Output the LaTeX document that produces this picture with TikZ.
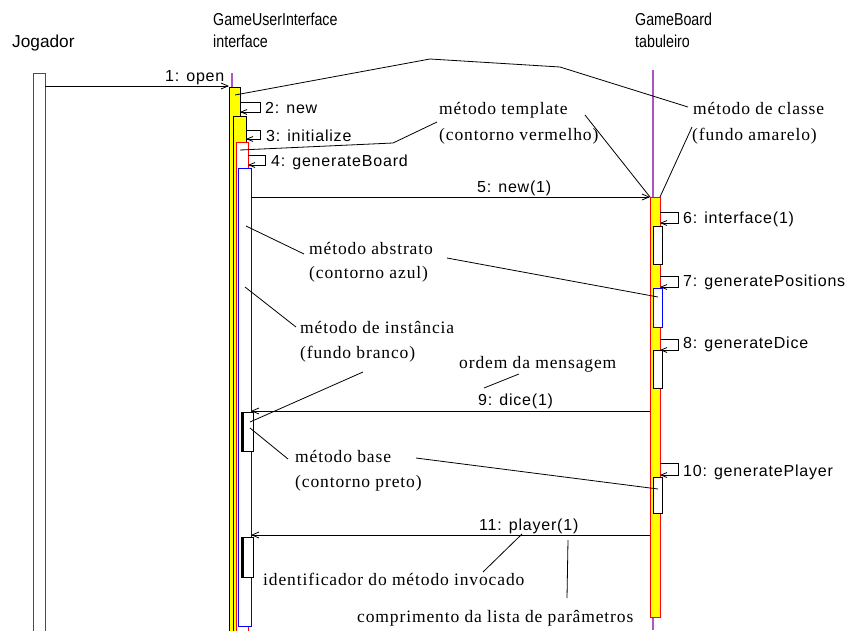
\documentclass[tikz,border=0pt]{standalone}
\usepackage{fontspec}
\newfontfamily\lblfont[LetterSpace=5]{Liberation Sans}
\newfontfamily\hdrfont{Liberation Sans}
\newfontfamily\notefont[LetterSpace=5]{Liberation Serif}
\usetikzlibrary{arrows.meta}
\definecolor{lifecol}{RGB}{175,85,195}
\definecolor{clsfill}{RGB}{255,255,0}
% taller header lettering
\newcommand\hdrtall[1]{\scalebox{0.95}[1.15]{#1}}
\begin{document}
\begin{tikzpicture}[x=1pt,y=-1pt,
  hdr/.style={anchor=base west, inner sep=0pt, font=\hdrfont\fontsize{15}{17}\selectfont},
  msg/.style={anchor=base west, inner sep=0pt, font=\lblfont\fontsize{16}{18}\selectfont},
  note/.style={anchor=base west, inner sep=0pt, font=\notefont\fontsize{17.5}{21}\selectfont},
  act/.style={anchor=north west, inner sep=0pt, outer sep=0pt, line width=0.9pt},
  clsbox/.style={act, draw=black, fill=clsfill},
  instbox/.style={act, draw=black, fill=white},
  tplbox/.style={act, draw=red, fill=white},
  absbox/.style={act, draw=blue, fill=white},
  lifeline/.style={draw=lifecol, line width=1.1pt},
  lead/.style={draw=black, line width=0.8pt},
  call/.style={draw=black, line width=0.8pt, -{Straight Barb[length=7pt,width=6pt]}},
  selfcall/.style={draw=black, line width=0.8pt, -{Straight Barb[length=6pt,width=5pt]}}
]
\useasboundingbox[fill=white] (0,0) rectangle (849,630);

% actor
\node[instbox, draw=black!70, minimum width=12pt, minimum height=570pt] (jogbox) at (33,73) {};

% lifelines
\draw[lifeline] (232,73) -- (232,88);
\draw[lifeline] (653,70) -- (653,630);

% GameUserInterface activations
\node[clsbox, minimum width=11pt, minimum height=560pt] (ui1) at (229,87) {};
\node[clsbox, minimum width=13pt, minimum height=530pt] (ui2) at (233,116) {};
\node[tplbox, minimum width=12pt, minimum height=500pt] (ui3) at (236,142) {};
\node[absbox, minimum width=13pt, minimum height=458pt] (ui4) at (238,168) {};
\node[instbox, minimum width=12pt, minimum height=39pt] (ui9) at (241,412) {};
\draw[line width=3pt] ([xshift=1.5pt]ui9.north west) -- ([xshift=1.5pt]ui9.south west);
\node[instbox, minimum width=12pt, minimum height=40pt] (ui11) at (241,537) {};
\draw[line width=3pt] ([xshift=1.5pt]ui11.north west) -- ([xshift=1.5pt]ui11.south west);

% GameBoard activations
\node[act, draw=red, fill=clsfill, minimum width=10pt, minimum height=420pt] (gb5) at (650,197) {};
\node[instbox, minimum width=9pt, minimum height=38pt] (gb6) at (653,226) {};
\node[absbox, minimum width=9pt, minimum height=39pt] (gb7) at (653,288) {};
\node[instbox, minimum width=9pt, minimum height=38pt] (gb8) at (653,350) {};
\node[instbox, minimum width=9pt, minimum height=36pt] (gb10) at (653,477) {};

% messages between objects
\draw[call] (jogbox.east |- 0,86) -- (ui1.west |- 0,86);
\draw[call] (ui4.east |- 0,197) -- (gb5.west |- 0,197);
\draw[call] (gb5.west |- 0,411) -- (ui4.east |- 0,411);
\draw[call] (gb5.west |- 0,535) -- (ui4.east |- 0,535);

% self calls
\draw[selfcall] (ui1.east |- 0,102) -| (260,112) -- (ui1.east |- 0,112);
\draw[selfcall] (ui2.east |- 0,130) -| (260,139) -- (ui2.east |- 0,139);
\draw[selfcall] (ui3.east |- 0,155) -| (265,165) -- (ui3.east |- 0,165);
\draw[selfcall] (gb5.east |- 0,212) -| (678,223) -- (gb5.east |- 0,223);
\draw[selfcall] (gb5.east |- 0,276) -| (678,287) -- (gb5.east |- 0,287);
\draw[selfcall] (gb5.east |- 0,339) -| (678,350) -- (gb5.east |- 0,350);
\draw[selfcall] (gb5.east |- 0,463) -| (678,475) -- (gb5.east |- 0,475);

% headers
\node[hdr] (jog) at (12,47) {\scalebox{1.15}[1.15]{Jogador}};
\node[hdr] (guiA) at (213,25) {\hdrtall{GameUserInterface}};
\node[hdr] (guiB) at (213,47) {\hdrtall{interface}};
\node[hdr] (gbA) at (635,25) {\hdrtall{GameBoard}};
\node[hdr] (gbB) at (635,47) {\hdrtall{tabuleiro}};

% message labels
\node[msg] (l1) at (165,81) {1: open};
\node[msg] (l2) at (265,113) {2: new};
\node[msg] (l3) at (266,141) {3: initialize};
\node[msg] (l4) at (271,166) {4: generateBoard};
\node[msg] (l5) at (477,192) {5: new(1)};
\node[msg] (l6) at (683,223) {6: interface(1)};
\node[msg] (l7) at (683,286) {7: generatePositions};
\node[msg] (l8) at (683,348) {8: generateDice};
\node[msg] (l9) at (478,405) {9: dice(1)};
\node[msg] (l10) at (683,476) {10: generatePlayer};
\node[msg] (l11) at (479,530) {11: player(1)};

% annotations
\node[note] (nTplA) at (439,114) {método template};
\node[note] (nTplB) at (439,140) {(contorno vermelho)};
\node[note] (nClsA) at (693,114) {método de classe};
\node[note] (nClsB) at (692,140) {(fundo amarelo)};
\node[note] (nAbsA) at (309,254) {método abstrato};
\node[note] (nAbsB) at (309,278) {(contorno azul)};
\node[note] (nInsA) at (300,333) {método de instância};
\node[note] (nInsB) at (300,358) {(fundo branco)};
\node[note] (nOrd) at (459,368) {ordem da mensagem};
\node[note] (nBasA) at (295,462) {método base};
\node[note] (nBasB) at (295,487) {(contorno preto)};
\node[note] (nId) at (263,585) {identificador do método invocado};
\node[note] (nLen) at (357,622) {comprimento da lista de parâmetros};

% leader lines
\coordinate (kA) at (430,59);
\coordinate (kB) at (560,67);
\draw[lead] (235,95) -- (kA) -- (kB) -- (688,107);
\draw[lead] (692,127) -- (gb5.north east);
\coordinate (kT) at (393,143);
\draw[lead] (240,150) -- (kT) -- (437,122);
\draw[lead] (585,115) -- (gb5.north west);
\draw[lead] (246,226) -- (304,254);
\draw[lead] (447,258) -- (658,297);
\draw[lead] (245,287) -- (296,327);
\draw[lead] (363,372) -- (250,422);
\draw[lead] (519,374) -- (484,388);
\draw[lead] (250,428) -- (288,459);
\draw[lead] (416,458) -- (658,489);
\draw[lead] (483,572) -- (522,534);
\draw[lead] (568,540) -- (567,598);
\end{tikzpicture}
\end{document}
